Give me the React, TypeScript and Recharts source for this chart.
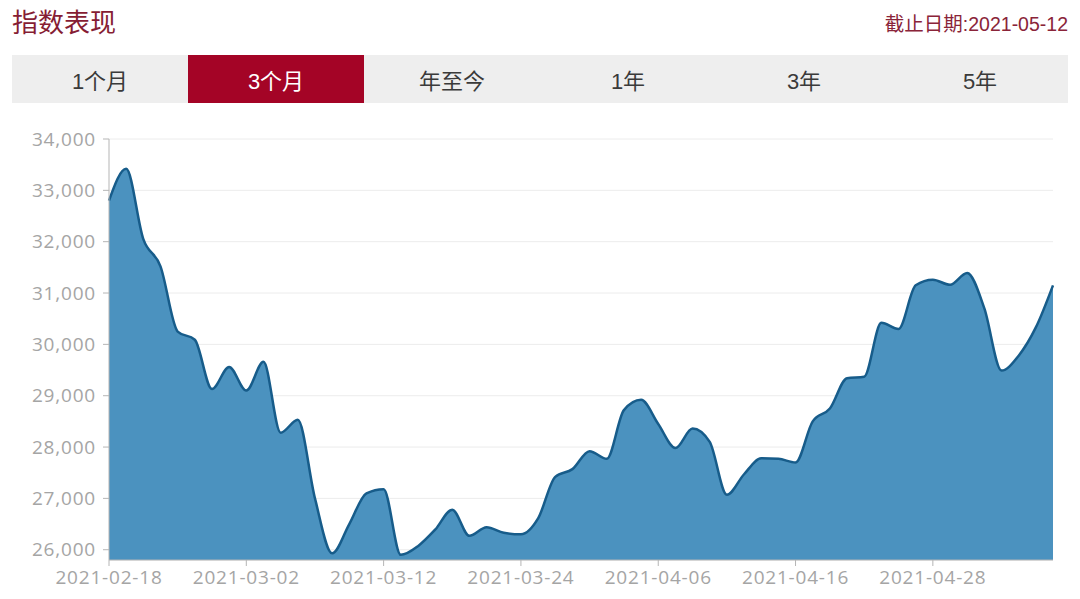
import { Area, AreaChart, CartesianGrid, XAxis, YAxis } from 'recharts';

const dates = [
  '2021-02-18', '2021-02-19', '2021-02-22', '2021-02-23', '2021-02-24', '2021-02-25', '2021-02-26', '2021-03-01',
  '2021-03-02', '2021-03-03', '2021-03-04', '2021-03-05', '2021-03-08', '2021-03-09', '2021-03-10', '2021-03-11',
  '2021-03-12', '2021-03-15', '2021-03-16', '2021-03-17', '2021-03-18', '2021-03-19', '2021-03-22', '2021-03-23',
  '2021-03-24', '2021-03-25', '2021-03-26', '2021-03-29', '2021-03-30', '2021-03-31', '2021-04-01', '2021-04-05',
  '2021-04-06', '2021-04-07', '2021-04-08', '2021-04-09', '2021-04-12', '2021-04-13', '2021-04-14', '2021-04-15',
  '2021-04-16', '2021-04-19', '2021-04-20', '2021-04-21', '2021-04-22', '2021-04-23', '2021-04-26', '2021-04-27',
  '2021-04-28', '2021-04-29', '2021-04-30', '2021-05-03', '2021-05-04', '2021-05-05', '2021-05-06', '2021-05-07',
];

const values = [
  32800, 33420, 32050, 31520, 30250, 30090, 29130, 29560,
  29100, 29660, 28280, 28530, 27000, 25930, 26500, 27100,
  27180, 25900, 26070, 26390, 26780, 26270, 26440, 26330,
  26300, 26610, 27420, 27570, 27920, 27770, 28720, 28920,
  28450, 27980, 28360, 28100, 27070, 27470, 27780, 27770,
  27700, 28500, 28750, 29340, 29370, 30420, 30300, 31150,
  31260, 31160, 31390, 30700, 29490, 29780, 30330, 31150,
];

const xTicks = ['2021-02-18', '2021-03-02', '2021-03-12', '2021-03-24', '2021-04-06', '2021-04-16', '2021-04-28'];
const yTicks = [26000, 27000, 28000, 29000, 30000, 31000, 32000, 33000, 34000];
const tabs = ['1个月', '3个月', '年至今', '1年', '3年', '5年'];
const activeTab = '3个月';

const data = dates.map((date, i) => ({ date, value: values[i] }));

const cjk = "'Liberation Sans', 'Noto Sans CJK SC', sans-serif";
const tickFont = "'Open Sans', 'Noto Sans CJK SC', sans-serif";
const tickStyle = { fill: '#a5a5a5', fontSize: 19, fontFamily: tickFont, letterSpacing: 0.8 };

export default function App() {
  return (
    <div style={{ position: 'absolute', left: 0, top: 0, width: 1080, height: 599, background: '#fff', overflow: 'hidden' }}>
      <AreaChart
        width={1080}
        height={599}
        data={data}
        margin={{ top: 139, right: 27, bottom: 0, left: 0 }}
        style={{ position: 'absolute', left: 0, top: 0 }}
      >
        <CartesianGrid vertical={false} stroke="#ececec" />
        <XAxis
          dataKey="date"
          ticks={xTicks}
          interval={0}
          height={39}
          stroke="#b5b5b5"
          tickSize={6}
          tickMargin={5}
          tick={tickStyle}
        />
        <YAxis
          type="number"
          domain={[25800, 34000]}
          ticks={yTicks}
          width={109}
          stroke="#b5b5b5"
          tickSize={6}
          tickMargin={7}
          tickFormatter={(v: number) => v.toLocaleString('en-US')}
          tick={tickStyle}
        />
        <Area
          type="monotone"
          dataKey="value"
          stroke="#175c8a"
          strokeWidth={2.5}
          fill="#4b92bf"
          fillOpacity={1}
          isAnimationActive={false}
          dot={false}
          activeDot={false}
        />
      </AreaChart>

      <div style={{ position: 'absolute', left: 12, top: 6, fontSize: 26, color: '#861d34', fontFamily: cjk, lineHeight: '34px' }}>
        指数表现
      </div>
      <div style={{ position: 'absolute', right: 12, top: 11, fontSize: 19.5, color: '#8a2439', fontFamily: cjk, lineHeight: '26px' }}>
        截止日期:2021-05-12
      </div>

      <div style={{ position: 'absolute', left: 12, top: 55, width: 1056, height: 48, background: '#eeeeee', display: 'flex' }}>
        {tabs.map((t) => (
          <div
            key={t}
            style={{
              flex: 1,
              display: 'flex',
              alignItems: 'center',
              justifyContent: 'center',
              fontSize: 22,
              fontFamily: cjk,
              color: t === activeTab ? '#ffffff' : '#3a3a3a',
              background: t === activeTab ? '#a40426' : 'transparent',
            }}
          >
            {t}
          </div>
        ))}
      </div>
    </div>
  );
}
